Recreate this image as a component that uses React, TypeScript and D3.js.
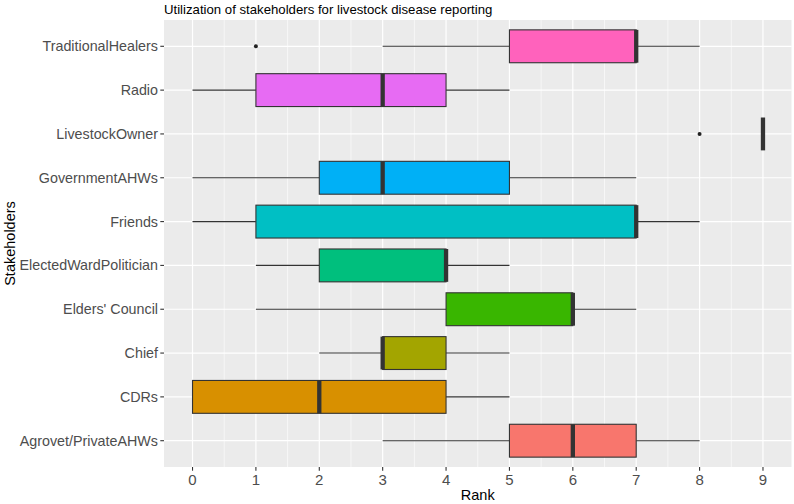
import React from "react";
import * as d3 from "d3";

// Stakeholders, listed top to bottom as drawn
const stakeholders = [
  "TraditionalHealers",
  "Radio",
  "LivestockOwner",
  "GovernmentAHWs",
  "Friends",
  "ElectedWardPolitician",
  "Elders' Council",
  "Chief",
  "CDRs",
  "Agrovet/PrivateAHWs",
];

// Five-number summaries of rank per stakeholder
const whiskerLow = [3, 0, 9, 0, 0, 1, 1, 2, 0, 3];
const q1 = [5, 1, 9, 2, 1, 2, 4, 3, 0, 5];
const median = [7, 3, 9, 3, 7, 4, 6, 3, 2, 6];
const q3 = [7, 4, 9, 5, 7, 4, 6, 4, 4, 7];
const whiskerHigh = [8, 5, 9, 7, 8, 5, 7, 5, 5, 8];
const outliers = [[1], [], [8], [], [], [], [], [], [], []];

const fills = [
  "#FF62BC",
  "#E76BF3",
  "#9590FF",
  "#00B0F6",
  "#00BFC4",
  "#00BF7D",
  "#39B600",
  "#A3A500",
  "#D89000",
  "#F8766D",
];

const rankTicks = [0, 1, 2, 3, 4, 5, 6, 7, 8, 9];
const minorTicks = [0.5, 1.5, 2.5, 3.5, 4.5, 5.5, 6.5, 7.5, 8.5];

const W = 794;
const H = 504;
const panel = { left: 164, right: 791.5, top: 20, bottom: 467 };
const FONT = "'Liberation Sans', Arial, sans-serif";

export default function App() {
  const x = d3.scaleLinear().domain([-0.45, 9.45]).range([panel.left, panel.right]);
  const y = d3
    .scalePoint<string>()
    .domain(stakeholders)
    .range([panel.top, panel.bottom])
    .padding(0.6);
  const boxH = y.step() * 0.75;

  return (
    <svg
      width={W}
      height={H}
      style={{ position: "absolute", left: 0, top: 0, background: "#fff" }}
      fontFamily={FONT}
    >
      {/* panel background */}
      <rect
        x={panel.left}
        y={panel.top}
        width={panel.right - panel.left}
        height={panel.bottom - panel.top}
        fill="#EBEBEB"
      />
      {/* minor grid */}
      {minorTicks.map((t) => (
        <line
          key={"mn" + t}
          x1={x(t)}
          x2={x(t)}
          y1={panel.top}
          y2={panel.bottom}
          stroke="#fff"
          strokeWidth={0.6}
        />
      ))}
      {/* major grid */}
      {rankTicks.map((t) => (
        <line
          key={"mj" + t}
          x1={x(t)}
          x2={x(t)}
          y1={panel.top}
          y2={panel.bottom}
          stroke="#fff"
          strokeWidth={1.2}
        />
      ))}
      {stakeholders.map((s) => (
        <line
          key={"gy" + s}
          x1={panel.left}
          x2={panel.right}
          y1={y(s)}
          y2={y(s)}
          stroke="#fff"
          strokeWidth={1.2}
        />
      ))}

      {/* boxplots */}
      {stakeholders.map((s, i) => {
        const cy = y(s)!;
        return (
          <g key={"b" + s}>
            <line x1={x(whiskerLow[i])} x2={x(q1[i])} y1={cy} y2={cy} stroke="#333" strokeWidth={1.1} />
            <line x1={x(q3[i])} x2={x(whiskerHigh[i])} y1={cy} y2={cy} stroke="#333" strokeWidth={1.1} />
            <rect
              x={x(q1[i])}
              y={cy - boxH / 2}
              width={x(q3[i]) - x(q1[i])}
              height={boxH}
              fill={fills[i]}
              stroke="#333"
              strokeWidth={1.1}
            />
            <line
              x1={x(median[i])}
              x2={x(median[i])}
              y1={cy - boxH / 2}
              y2={cy + boxH / 2}
              stroke="#333"
              strokeWidth={4.3}
            />
            {outliers[i].map((o, k) => (
              <circle key={k} cx={x(o)} cy={cy} r={2} fill="#222" />
            ))}
          </g>
        );
      })}

      {/* y axis */}
      {stakeholders.map((s) => (
        <g key={"ya" + s}>
          <line x1={panel.left - 3.7} x2={panel.left} y1={y(s)} y2={y(s)} stroke="#333" strokeWidth={1.1} />
          <text
            x={panel.left - 6}
            y={y(s)}
            dy="0.35em"
            textAnchor="end"
            fontSize={14.3}
            fill="#4D4D4D"
          >
            {s}
          </text>
        </g>
      ))}

      {/* x axis */}
      {rankTicks.map((t) => (
        <g key={"xa" + t}>
          <line x1={x(t)} x2={x(t)} y1={panel.bottom} y2={panel.bottom + 3.7} stroke="#333" strokeWidth={1.1} />
          <text x={x(t)} y={panel.bottom + 18} textAnchor="middle" fontSize={15} fill="#4D4D4D">
            {t}
          </text>
        </g>
      ))}

      {/* titles */}
      <text x={(panel.left + panel.right) / 2} y={500} textAnchor="middle" fontSize={14.5} fill="#000">
        Rank
      </text>
      <text
        transform={`translate(15, ${(panel.top + panel.bottom) / 2}) rotate(-90)`}
        textAnchor="middle"
        fontSize={14.5}
        fill="#000"
      >
        Stakeholders
      </text>
      <text x={panel.left} y={14} fontSize={13.2} fill="#000">
        Utilization of stakeholders for livestock disease reporting
      </text>
    </svg>
  );
}
